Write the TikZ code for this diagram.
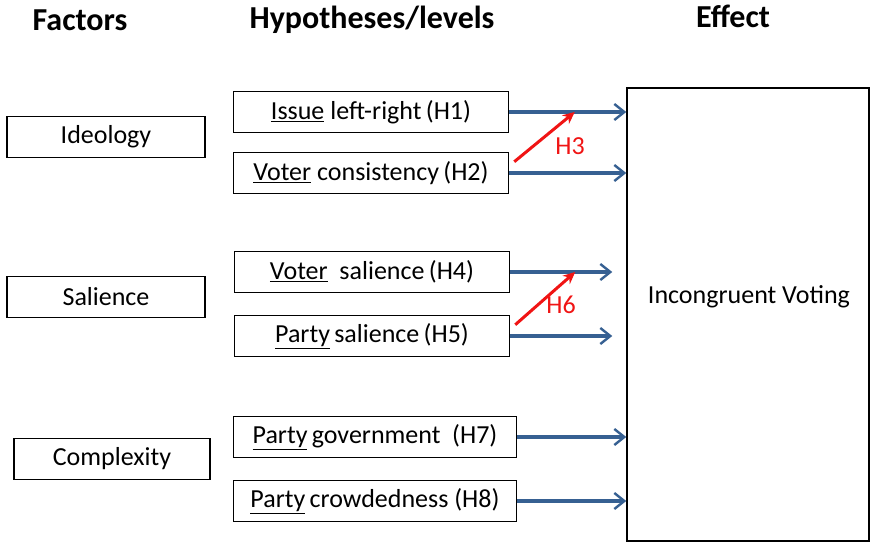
\documentclass[tikz,border=0pt]{standalone}
\usepackage{fontspec}
\setmainfont{Carlito}
\usepackage{tikz}
\usetikzlibrary{arrows.meta, positioning, calc}
\definecolor{cArrow}{RGB}{54,96,146}
\definecolor{cRed}{RGB}{240,20,20}
\tikzset{
	factor/.style  ={rectangle, draw=black, line width=1.5pt, minimum width=198pt, minimum height=41pt, align=center, fill=white},
	hypo/.style    ={rectangle, draw=black, line width=1.5pt, minimum width=275pt, minimum height=41pt, align=center, fill=white},
	header/.style  ={font=\fontsize{32}{36}\selectfont\bfseries},
	effarrow/.style={-{Straight Barb[length=10pt, width=16pt, line width=2.4pt]}, line width=3.2pt, draw=cArrow},
	modarrow/.style={-{Stealth[length=12pt, width=11pt]}, line width=3pt, draw=cRed},
	modlabel/.style={text=cRed},
}

\begin{document}
\begin{tikzpicture}[x=1pt, y=-1pt, font=\fontsize{26}{30}\selectfont]
	\useasboundingbox (0,0) rectangle (871,543);
	% headers
	\node[header] (hf) at (80,20) {Factors};
	\node[header] (hh) at (372,20) {Hypotheses/levels};
	\node[header] (he) at (733,16) {Effect};
	% factors
	\node[factor] (ideo) at (106,137) {Ideology};
	\node[factor] (sal) at (106,297) {Salience};
	\node[factor, minimum width=196pt] (comp) at (112,459) {Complexity};
	% hypotheses
	\node[hypo] (h1) at (371,112) {\underline{Issue} left-right\,(H1)};
	\node[hypo] (h2) at (371,173) {\underline{Voter} consistency\,(H2)};
	\node[hypo] (h4) at (372,272) {\underline{Voter}\ \ salience\,(H4)};
	\node[hypo] (h5) at (372,336) {\underline{Party}\,salience\,(H5)};
	\node[hypo, minimum width=283pt] (h7) at (375,437) {\underline{Party}\,government\ \ (H7)};
	\node[hypo, minimum width=283pt] (h8) at (375,501) {\underline{Party}\,crowdedness\ (H8)};
	% effect
	\node[draw=black, line width=1.5pt, minimum width=242pt, minimum height=453pt] (eff) at (748,314.5) {};
	\node (effl) at (749,297) {Incongruent Voting};
	% arrows to effect
	\draw[effarrow] (h1.east) -- (h1.east -| eff.west);
	\draw[effarrow] (h2.east) -- (h2.east -| eff.west);
	\draw[effarrow, shorten >=14pt] (h4.east) -- (h4.east -| eff.west);
	\draw[effarrow, shorten >=14pt] (h5.east) -- (h5.east -| eff.west);
	\draw[effarrow] (h7.east) -- (h7.east -| eff.west);
	\draw[effarrow] (h8.east) -- (h8.east -| eff.west);
	% moderating effects
	\coordinate (m3) at ($(h1.east)!0.56!(h1.east -| eff.west)$);
	\coordinate (m6) at ($(h4.east)!0.56!(h4.east -| eff.west)$);
	\draw[modarrow] ($(h2.north east)+(5,10)$) -- (m3);
	\draw[modarrow] ($(h5.north east)+(5,10)$) -- (m6);
	\node[modlabel] (l3) at (570,146) {H3};
	\node[modlabel] (l6) at (561,305) {H6};
\end{tikzpicture}
\end{document}
